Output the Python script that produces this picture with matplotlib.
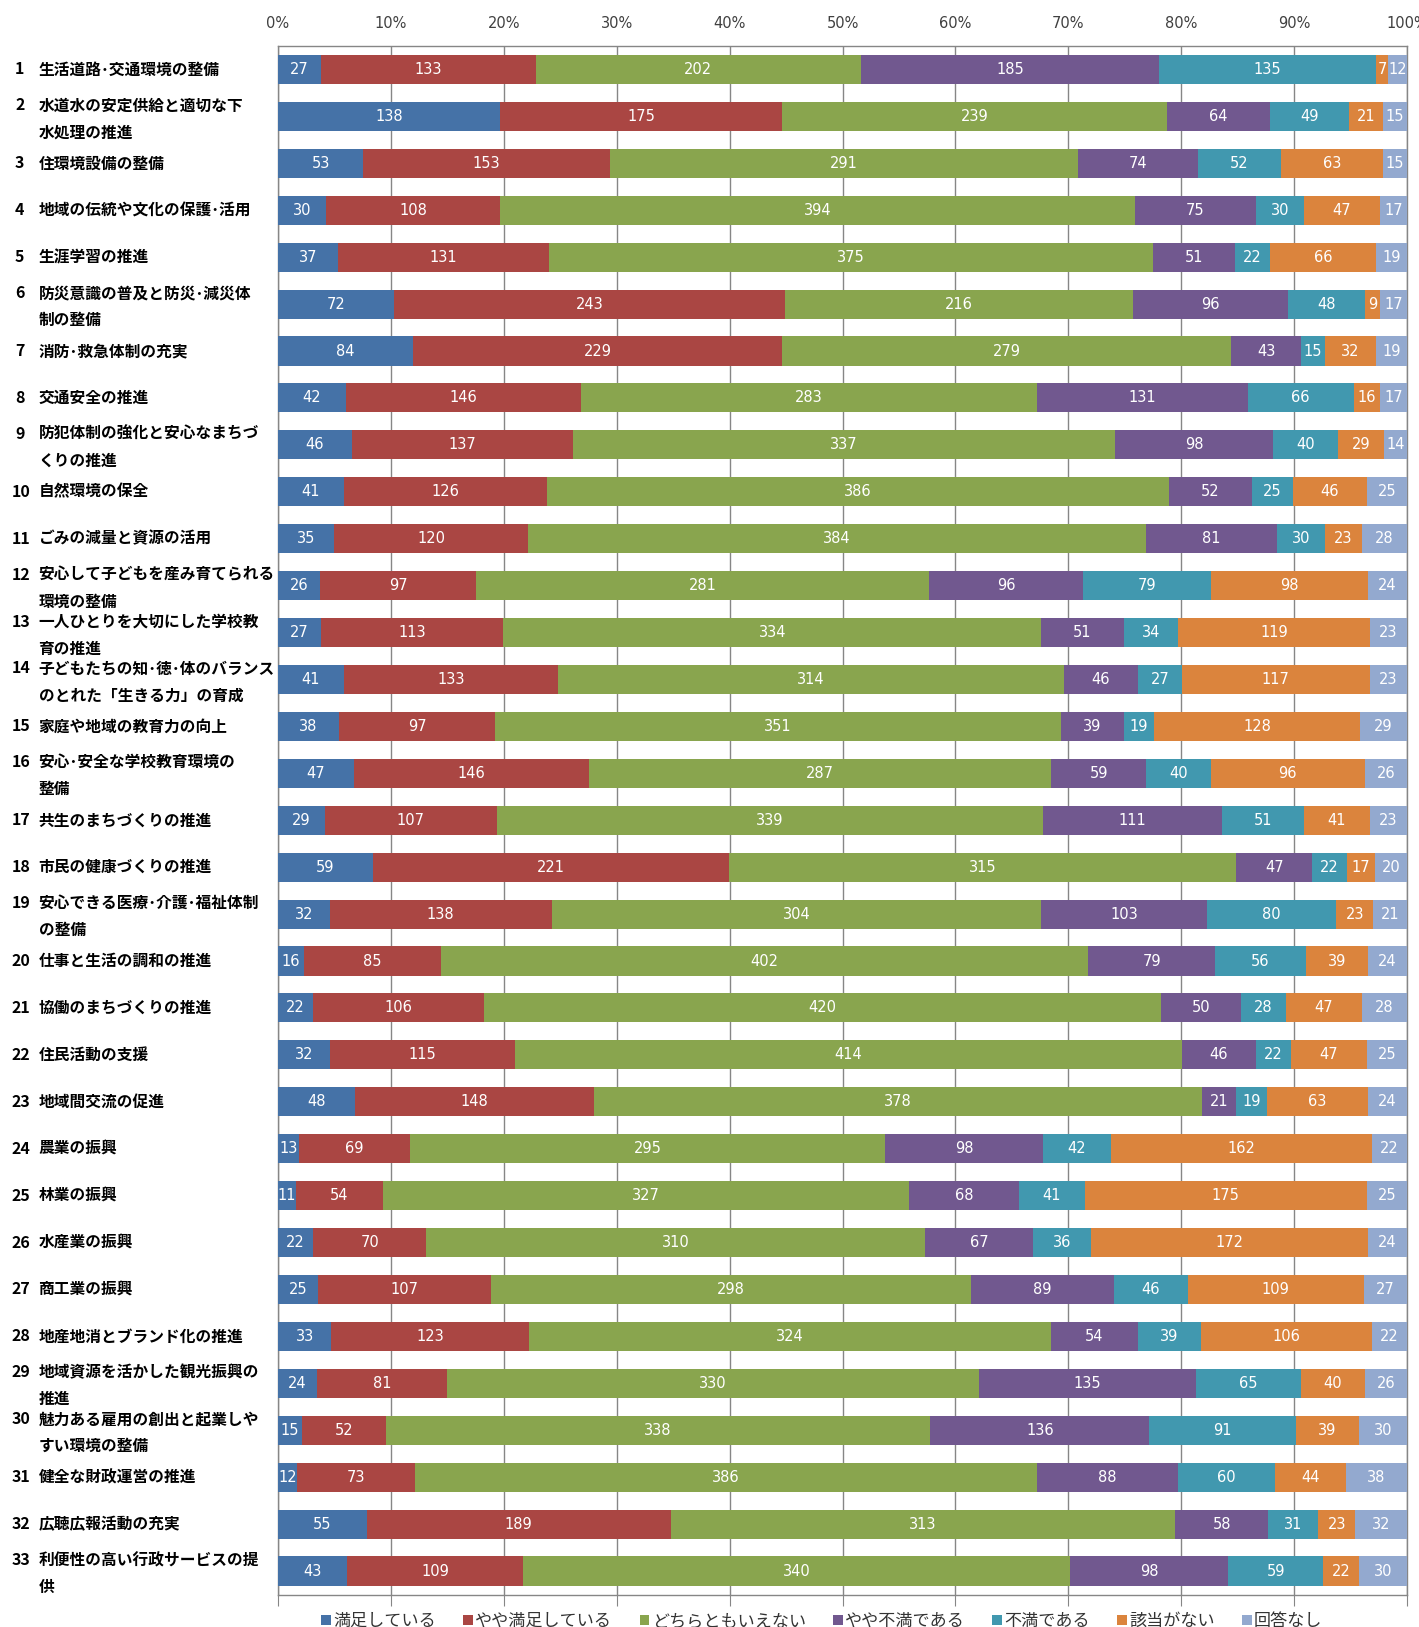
import numpy as np
import matplotlib
matplotlib.use('Agg')
import matplotlib.pyplot as plt
from matplotlib.patches import Patch

plt.rcParams['font.family'] = ['Noto Sans CJK JP', 'DejaVu Sans']

# 選択肢と色
categories = ["満足している", "やや満足している", "どちらともいえない", "やや不満である",
              "不満である", "該当がない", "回答なし"]
colors = ["#4572A7", "#AA4643", "#89A54E", "#71588F", "#4198AF", "#DB843D", "#93A9CF"]

# 施策名 (改行は元の図どおり)
items = [
    "生活道路･交通環境の整備",
    "水道水の安定供給と適切な下\n水処理の推進",
    "住環境設備の整備",
    "地域の伝統や文化の保護･活用",
    "生涯学習の推進",
    "防災意識の普及と防災･減災体\n制の整備",
    "消防･救急体制の充実",
    "交通安全の推進",
    "防犯体制の強化と安心なまちづ\nくりの推進",
    "自然環境の保全",
    "ごみの減量と資源の活用",
    "安心して子どもを産み育てられる\n環境の整備",
    "一人ひとりを大切にした学校教\n育の推進",
    "子どもたちの知･徳･体のバランス\nのとれた「生きる力」の育成",
    "家庭や地域の教育力の向上",
    "安心･安全な学校教育環境の\n整備",
    "共生のまちづくりの推進",
    "市民の健康づくりの推進",
    "安心できる医療･介護･福祉体制\nの整備",
    "仕事と生活の調和の推進",
    "協働のまちづくりの推進",
    "住民活動の支援",
    "地域間交流の促進",
    "農業の振興",
    "林業の振興",
    "水産業の振興",
    "商工業の振興",
    "地産地消とブランド化の推進",
    "地域資源を活かした観光振興の\n推進",
    "魅力ある雇用の創出と起業しや\nすい環境の整備",
    "健全な財政運営の推進",
    "広聴広報活動の充実",
    "利便性の高い行政サービスの提\n供",
]

# 回答数 (各施策, 選択肢順)
counts = [
    [27, 133, 202, 185, 135, 7, 12],
    [138, 175, 239, 64, 49, 21, 15],
    [53, 153, 291, 74, 52, 63, 15],
    [30, 108, 394, 75, 30, 47, 17],
    [37, 131, 375, 51, 22, 66, 19],
    [72, 243, 216, 96, 48, 9, 17],
    [84, 229, 279, 43, 15, 32, 19],
    [42, 146, 283, 131, 66, 16, 17],
    [46, 137, 337, 98, 40, 29, 14],
    [41, 126, 386, 52, 25, 46, 25],
    [35, 120, 384, 81, 30, 23, 28],
    [26, 97, 281, 96, 79, 98, 24],
    [27, 113, 334, 51, 34, 119, 23],
    [41, 133, 314, 46, 27, 117, 23],
    [38, 97, 351, 39, 19, 128, 29],
    [47, 146, 287, 59, 40, 96, 26],
    [29, 107, 339, 111, 51, 41, 23],
    [59, 221, 315, 47, 22, 17, 20],
    [32, 138, 304, 103, 80, 23, 21],
    [16, 85, 402, 79, 56, 39, 24],
    [22, 106, 420, 50, 28, 47, 28],
    [32, 115, 414, 46, 22, 47, 25],
    [48, 148, 378, 21, 19, 63, 24],
    [13, 69, 295, 98, 42, 162, 22],
    [11, 54, 327, 68, 41, 175, 25],
    [22, 70, 310, 67, 36, 172, 24],
    [25, 107, 298, 89, 46, 109, 27],
    [33, 123, 324, 54, 39, 106, 22],
    [24, 81, 330, 135, 65, 40, 26],
    [15, 52, 338, 136, 91, 39, 30],
    [12, 73, 386, 88, 60, 44, 38],
    [55, 189, 313, 58, 31, 23, 32],
    [43, 109, 340, 98, 59, 22, 30],
]

data = np.array(counts, dtype=float)
share = data / data.sum(axis=1, keepdims=True)
n = len(items)
y = np.arange(n)

W, H = 1419, 1627
fig = plt.figure(figsize=(W / 100, H / 100), dpi=100)
ax = fig.add_axes([278 / W, 1 - 1594.5 / H, (1407 - 278) / W, (1594.5 - 46) / H])

left = np.zeros(n)
for j, (cat, col) in enumerate(zip(categories, colors)):
    ax.barh(y, share[:, j], left=left, height=0.62, color=col, zorder=3)
    for i in range(n):
        ax.text(left[i] + share[i, j] / 2, y[i], f"{int(data[i, j])}",
                ha='center', va='center', color='white', fontsize=10.5,
                family=['DejaVu Sans'], zorder=4)
    left += share[:, j]

ax.set_xlim(0, 1)
ax.set_ylim(n - 0.5, -0.5)
ax.set_yticks([])
ax.set_xticks(np.arange(0, 1.01, 0.1))
ax.set_xticklabels([f"{k}%" for k in range(0, 101, 10)], color='#404040',
                   fontsize=10.5, family=['DejaVu Sans'])
ax.tick_params(axis='x', top=False, bottom=True, labeltop=True, labelbottom=False,
               direction='out', length=8, color='#868686', pad=3)
ax.grid(True, axis='x', color='#868686', linewidth=1, zorder=0)
for s in ax.spines.values():
    s.set_color('#868686')
    s.set_linewidth(1)

# 左側の項目ラベル
for i, label in enumerate(items):
    yc = ax.transData.transform((0, i))[1]
    lines = label.split("\n")
    num = str(i + 1)
    nx = 11.4 if len(num) == 2 else 15
    if len(lines) == 1:
        ys = [yc]
    else:
        ys = [yc + 11, yc - 16]
    fig.text(nx / W, ys[0] / H, num, ha='left', va='center', fontsize=11.5,
             fontweight='bold', color='black')
    for ln, yy in zip(lines, ys):
        fig.text(38.5 / W, yy / H, ln, ha='left', va='center', fontsize=11.3,
                 fontweight='bold', color='black')

handles = [Patch(facecolor=c, edgecolor='none') for c in colors]
fig.legend(handles, categories, loc='center', bbox_to_anchor=(822 / W, 1 - 1621 / H),
           ncol=7, frameon=False, fontsize=12.3, handlelength=0.55, handleheight=0.55,
           handletextpad=0.15, columnspacing=1.6, labelcolor='#333333')

fig.savefig("out.png", dpi=100)
